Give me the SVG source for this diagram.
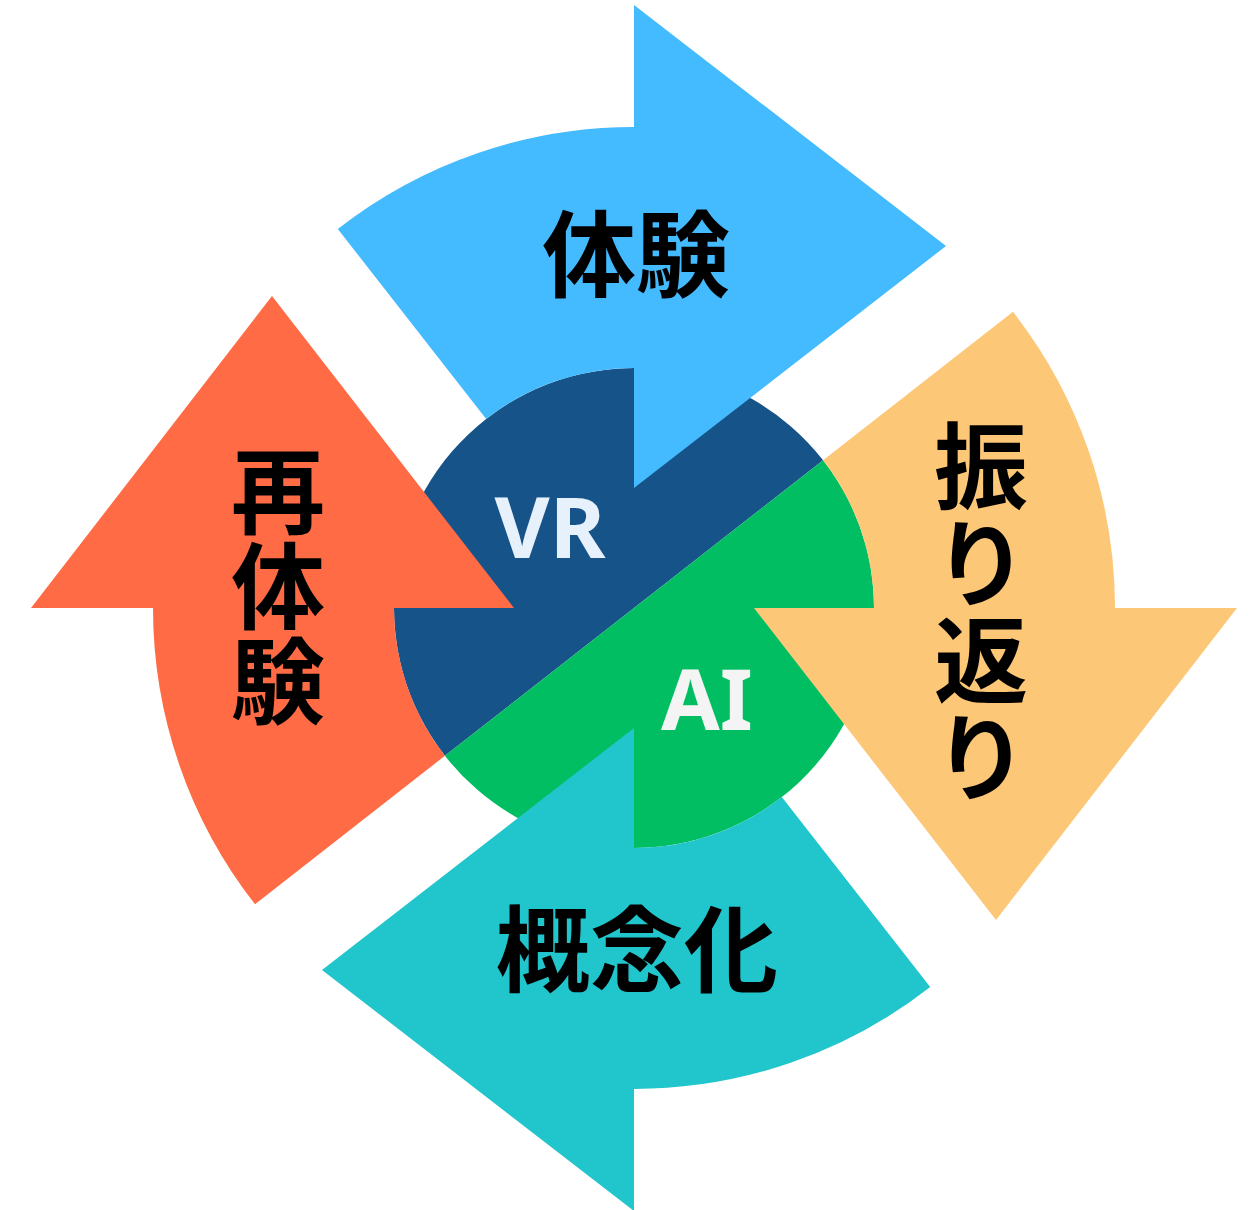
<svg xmlns="http://www.w3.org/2000/svg" width="1258" height="1210" viewBox="0 0 1258 1210">
<style>
.jp{font-family:"Noto Sans CJK JP","Noto Sans CJK SC",sans-serif;font-weight:700;font-size:94px;fill:#000;text-anchor:middle;dominant-baseline:central}
.en{font-family:"Noto Sans","Liberation Sans",sans-serif;font-weight:700;font-size:85px;text-anchor:middle}
</style>
<rect width="1258" height="1210" fill="#fff"/>
<g id="core">
<g id="vr">
<path d="M823.1,460.2 A240,240 0 0 0 444.9,755.8 Z" fill="#165389"/>
<text class="en" x="550" y="558" fill="#E6F1FC">VR</text>
</g>
<g id="ai">
<path d="M444.9,755.8 A240,240 0 0 0 823.1,460.2 Z" fill="#02BE62"/>
<text class="en" x="707" y="730" fill="#F4F4F4">AI</text>
</g>
</g>
<g id="connectors"/>
<g id="taiken">
<path d="M337.8,229 A481,481 0 0 1 634,127 L634,5 L946,246 L634,488 L634,368 A240,240 0 0 0 486.2,418.9 Z" fill="#44BAFF"/>
<text class="jp" x="636" y="249">体験</text>
</g>
<g id="furikaeri">
<path d="M1013,311.8 A481,481 0 0 1 1115,608 L1237,608 L996,920 L754,608 L874,608 A240,240 0 0 0 823.1,460.2 Z" fill="#FDC778"/>
<text class="jp"><tspan x="981" y="461">振</tspan><tspan x="981" y="558">り</tspan><tspan x="981" y="655">返</tspan><tspan x="981" y="752">り</tspan></text>
</g>
<g id="gainenka">
<path d="M930.2,987 A481,481 0 0 1 634,1089 L634,1211 L322,970 L634,728 L634,848 A240,240 0 0 0 781.8,797.1 Z" fill="#21C5CC"/>
<text class="jp" x="637" y="944">概念化</text>
</g>
<g id="saitaiken">
<path d="M255,904.2 A481,481 0 0 1 153,608 L31,608 L272,296 L514,608 L394,608 A240,240 0 0 0 444.9,755.8 Z" fill="#FF6B45"/>
<text class="jp"><tspan x="278" y="486">再</tspan><tspan x="278" y="581">体</tspan><tspan x="278" y="676">験</tspan></text>
</g>
</svg>
